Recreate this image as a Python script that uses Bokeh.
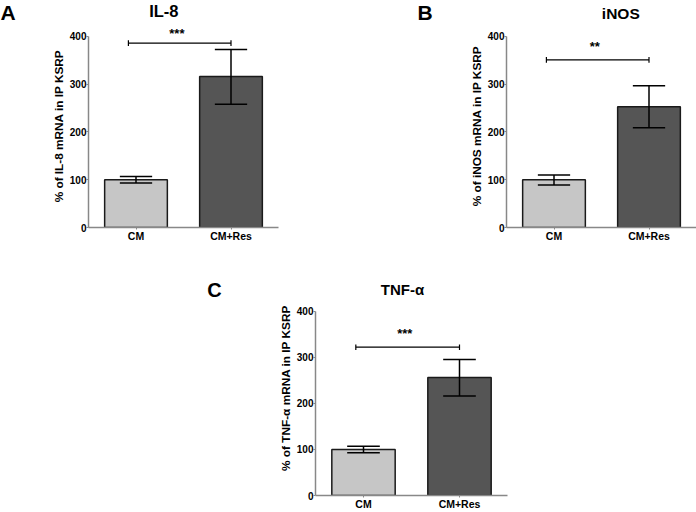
from bokeh.plotting import figure
from bokeh.layouts import column, row, Spacer
from bokeh.models import FixedTicker, Range1d, ColumnDataSource
from bokeh.core.properties import value
from bokeh.embed import file_html
from bokeh.resources import INLINE

# ---- data ----
groups = ["CM", "CM+Res"]
xpos = [1, 2]
bar_colors = ["#c6c6c6", "#555555"]
y_ticks = [0, 100, 200, 300, 400]

il8_mean = [100, 316]
il8_lo = [93, 258]
il8_hi = [107, 373]

inos_mean = [100, 253]
inos_lo = [89, 209]
inos_hi = [110, 297]

tnf_mean = [100, 256]
tnf_lo = [93, 216]
tnf_hi = [107, 295]

sig_x = [0.92, 2.0]
sig_levels = [386, 351, 322]
sig_stars = ["***", "**", "***"]

FONT = "Liberation Sans"
BAR_W = 0.66
CAP_W = 0.34


def text_fig(txt, w, h, x, ymid, size, align="left", mb_top=0, mb_bottom=0):
    """A blank figure (pixel coordinates of its frame, y downward) holding one bold text."""
    fh = h - mb_top - mb_bottom
    f = figure(width=w, height=h, output_backend="svg", toolbar_location=None, title=None,
               x_range=Range1d(0, w), y_range=Range1d(fh, 0),
               x_axis_location=None, y_axis_location=None,
               min_border_left=0, min_border_right=0,
               min_border_top=mb_top, min_border_bottom=mb_bottom)
    f.outline_line_color = None
    f.grid.visible = False
    f.text(x=[x], y=[ymid], text=[txt], text_font=value(FONT),
           text_font_size=value(size), text_font_style="bold",
           text_align=align, text_baseline="middle", text_color="black")
    return f


def make_panel(mean, lo, hi, ylabel, sig_y, stars,
               width, height, mb_left, mb_right, mb_top, mb_bottom, y_top,
               star_dy, title=None, title_xy=None, title_size="15px"):
    p = figure(width=width, height=height, output_backend="svg",
               toolbar_location=None, title=None,
               x_range=Range1d(0.5, 2.5), y_range=Range1d(0, y_top),
               min_border_left=mb_left, min_border_right=mb_right,
               min_border_top=mb_top, min_border_bottom=mb_bottom)
    p.outline_line_color = None
    p.xgrid.visible = False
    p.ygrid.visible = False

    src = ColumnDataSource(dict(x=xpos, top=mean, color=bar_colors))
    p.vbar(x="x", top="top", bottom=0, width=BAR_W, fill_color="color",
           line_color="#1a1a1a", line_width=1.5, source=src)

    # error bars
    p.segment(x0=xpos, y0=lo, x1=xpos, y1=hi, line_color="black", line_width=1.5)
    p.segment(x0=[x - CAP_W / 2 for x in xpos], y0=hi,
              x1=[x + CAP_W / 2 for x in xpos], y1=hi, line_color="black", line_width=1.5)
    p.segment(x0=[x - CAP_W / 2 for x in xpos], y0=lo,
              x1=[x + CAP_W / 2 for x in xpos], y1=lo, line_color="black", line_width=1.5)

    # significance bracket
    p.segment(x0=[sig_x[0]], y0=[sig_y], x1=[sig_x[1]], y1=[sig_y],
              line_color="black", line_width=1.2)
    p.segment(x0=sig_x, y0=[sig_y - 6] * 2, x1=sig_x, y1=[sig_y + 6] * 2,
              line_color="black", line_width=1.2)
    p.text(x=[(sig_x[0] + sig_x[1]) / 2 - 0.03], y=[sig_y + star_dy], text=[stars],
           text_align="center", text_baseline="middle", text_font=value(FONT),
           text_font_size=value("13px"), text_font_style="bold", text_color="black")

    if title is not None:
        p.text(x=[title_xy[0]], y=[title_xy[1]], text=[title],
               text_align="center", text_baseline="middle", text_font=value(FONT),
               text_font_size=value(title_size), text_font_style="bold", text_color="black")

    # y axis
    ya = p.yaxis[0]
    ya.ticker = FixedTicker(ticks=y_ticks)
    ya.bounds = (0, 400)
    ya.minor_tick_line_color = None
    ya.major_tick_out = 2
    ya.major_tick_in = 0
    ya.major_tick_line_color = "#888888"
    ya.axis_line_color = "#888888"
    ya.axis_line_width = 1.5
    ya.major_label_standoff = 0
    ya.major_label_text_font = FONT
    ya.major_label_text_font_style = "bold"
    ya.major_label_text_font_size = "10px"
    ya.major_label_text_color = "black"
    ya.axis_label = ylabel
    ya.axis_label_text_font = FONT
    ya.axis_label_text_font_style = "bold"
    ya.axis_label_text_font_size = "11.8px"
    ya.axis_label_text_color = "black"
    ya.axis_label_standoff = 1

    # x axis
    xa = p.xaxis[0]
    xa.ticker = FixedTicker(ticks=xpos)
    xa.major_label_overrides = {x: g for x, g in zip(xpos, groups)}
    xa.minor_tick_line_color = None
    xa.major_tick_out = 2
    xa.major_tick_in = 0
    xa.major_tick_line_color = "#888888"
    xa.axis_line_color = "#888888"
    xa.axis_line_width = 1.5
    xa.major_label_standoff = 0
    xa.major_label_text_font = FONT
    xa.major_label_text_font_style = "bold"
    xa.major_label_text_font_size = "10.5px"
    xa.major_label_text_color = "black"
    return p


TOP_H = 248
HEAD_H = 24
BOT_H = 264
C_TOP = 32
C_BOTTOM = 15

# ---- panel A ----
lA = text_fig("A", 30, TOP_H, 0, 12, "21px")
hA = text_fig("IL-8", 370, HEAD_H, 146.7, 10, "16.5px", align="center")
pA = make_panel(il8_mean, il8_lo, il8_hi, "% of IL-8 mRNA in IP KSRP",
                sig_levels[0], sig_stars[0],
                width=370, height=TOP_H - HEAD_H, mb_left=58, mb_right=122,
                mb_top=0, mb_bottom=21, y_top=425.1, star_dy=21)

# ---- panel B ----
lB = text_fig("B", 40, TOP_H, 17, 12, "21px")
hB = text_fig("iNOS", 256, HEAD_H, 154, 12.5, "15.5px", align="center")
pB = make_panel(inos_mean, inos_lo, inos_hi, "% of iNOS mRNA in IP KSRP",
                sig_levels[1], sig_stars[1],
                width=256, height=TOP_H - HEAD_H, mb_left=66, mb_right=0,
                mb_top=0, mb_bottom=21, y_top=425.1, star_dy=28)

# ---- panel C ----
lC = text_fig("C", 30, BOT_H, 8.7, 10, "20px", mb_top=C_TOP, mb_bottom=C_BOTTOM)
pC = make_panel(tnf_mean, tnf_lo, tnf_hi, "% of TNF-\u03b1 mRNA in IP KSRP",
                sig_levels[2], sig_stars[2],
                width=290, height=BOT_H, mb_left=87, mb_right=11,
                mb_top=C_TOP, mb_bottom=C_BOTTOM, y_top=466.7, star_dy=28.6,
                title="TNF-\u03b1", title_xy=(1.406, 447.3), title_size="15px")

layout = column(row(lA, column(hA, pA), lB, column(hB, pB)),
                row(Spacer(width=198, height=BOT_H), lC, pC))

open("out.html", "w").write(file_html(layout, INLINE))
